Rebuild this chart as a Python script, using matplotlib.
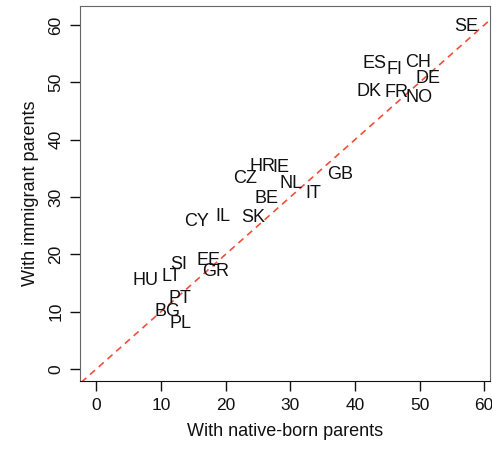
import matplotlib
matplotlib.use("Agg")
import matplotlib.pyplot as plt
import numpy as np

plt.rcParams['font.family'] = ['Liberation Sans', 'DejaVu Sans']

# country codes and shares (native-born parents vs immigrant parents)
countries = ["SE", "ES", "FI", "CH", "DE", "DK", "FR", "NO",
             "HR", "IE", "CZ", "NL", "GB", "IT", "BE",
             "CY", "IL", "SK", "SI", "EE", "GR", "HU", "LT",
             "PT", "BG", "PL"]
native = [57.2, 43.1, 46.1, 49.8, 51.3, 42.2, 46.5, 49.9,
          25.7, 28.6, 23.0, 30.1, 37.7, 33.5, 26.4,
          15.5, 19.6, 24.3, 12.7, 17.3, 18.4, 7.6, 11.6,
          13.0, 11.1, 13.1]
immigrant = [59.7, 53.3, 52.2, 53.4, 50.6, 48.5, 48.3, 47.3,
             35.4, 35.1, 33.3, 32.3, 34.0, 30.7, 29.8,
             25.7, 26.7, 26.4, 18.3, 19.0, 17.1, 15.5, 16.2,
             12.4, 10.1, 8.0]
ticks = [0, 10, 20, 30, 40, 50, 60]

fig = plt.figure(figsize=(4.92, 4.5), dpi=100)
ax = fig.add_axes([0.163, 0.153, 0.833, 0.834])

for c, x, y in zip(countries, native, immigrant):
    ax.text(x, y, c, ha='center', va='center', fontsize=13, color='#111111')

lims = np.array([-5, 70])
ax.plot(lims, lims, color='#f0503c', linestyle=(0, (4, 3)), linewidth=1.2)

ax.set_xlim(-2.47, 60.9)
ax.set_ylim(-2.1, 63.35)
ax.set_xticks(ticks)
ax.set_yticks(ticks)
ax.set_yticklabels([str(t) for t in ticks], rotation=90, va='center')
ax.tick_params(direction='out', length=7, width=1, labelsize=12.5,
               colors='#111111', pad=5)
ax.set_xlabel("With native-born parents", fontsize=13, color='#111111', labelpad=7)
ax.set_ylabel("With immigrant parents", fontsize=13, color='#111111', labelpad=7)
for s in ax.spines.values():
    s.set_color('#666666')
ax.spines['bottom'].set_color('#111111')

fig.savefig("out.png", dpi=100)
